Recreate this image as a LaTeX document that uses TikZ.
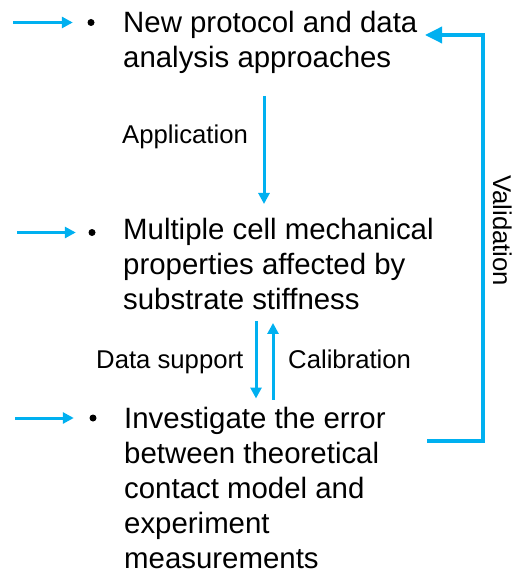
\documentclass[tikz,border=0pt]{standalone}
\usepackage{fontspec}
\setmainfont{Liberation Sans}
\usetikzlibrary{arrows.meta}
\definecolor{flowblue}{RGB}{0,176,240}
\begin{document}
\begin{tikzpicture}[x=1pt,y=-1pt,
  item/.style={anchor=base west, inner sep=0pt, align=left,
               font=\fontsize{29.4}{35}\selectfont},
  note/.style={anchor=base west, inner sep=0pt,
               font=\fontsize{25.7}{30}\selectfont},
  dot/.style={circle, fill=black, inner sep=0pt, minimum size=7pt},
  flow/.style={draw=flowblue, line width=3pt,
               -{Triangle[length=11pt,width=11pt]}},
  bigflow/.style={flow, line width=3.5pt,
               -{Triangle[length=17pt,width=16pt]}}]
\useasboundingbox (0,0) rectangle (518,575);

% bullets
\node[dot] (b1) at (91,22.5) {};
\node[dot] (b2) at (92,232.5) {};
\node[dot] (b3) at (93,418) {};

% the three items (placed by the baseline of their last line)
\node[item] (t1) at (123,67.5)
  {New protocol and data\\analysis approaches};
\node[item] (t2) at (123,309.5)
  {Multiple cell mechanical\\properties affected by\\substrate stiffness};
\node[item] (t3) at (124,568)
  {Investigate the error\\between theoretical\\contact model and\\experiment\\measurements};

% incoming arrows on the left
\coordinate (s1) at (13,22.5);
\coordinate (s2) at (17,232.5);
\coordinate (s3) at (15,418);
\draw[flow] (s1) -- (b1) [shorten >=14.5pt];
\draw[flow] (s2) -- (b2) [shorten >=12.5pt];
\draw[flow] (s3) -- (b3) [shorten >=15.5pt];

% links between the items
\draw[flow, shorten <=22pt, shorten >=14pt]
  ([xshift=141pt]t1.south west) -- ([xshift=141pt]t2.north west);
\draw[flow, shorten <=11pt, shorten >=8pt]
  ([xshift=133pt]t2.south west) -- ([xshift=132pt]t3.north west);
\draw[flow, shorten <=7pt, shorten >=13pt]
  ([xshift=149pt]t3.north west) -- ([xshift=150pt]t2.south west);

\node[note] (lapp) at (122,143) {Application};
\node[note] (ldat) at (96,368) {Data support};
\node[note] (lcal) at (288,368) {Calibration};

% validation loop on the right
\coordinate (vout) at (427,441);
\coordinate (vin) at (425,35);
\draw[bigflow] (vout) -- ++(56,0) |- (vin);
\node[note, rotate=-90] (lval) at (493,175) {Validation};
\end{tikzpicture}
\end{document}
